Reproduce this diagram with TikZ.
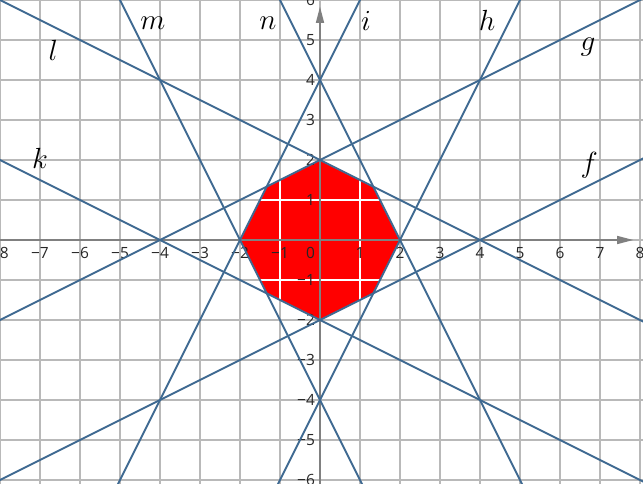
\documentclass[tikz,border=0pt]{standalone}
\usepackage{fontspec}
\newfontfamily\ticksfont{Open Sans}
\definecolor{lineblue}{RGB}{62,105,145}
\definecolor{gridgray}{RGB}{185,185,185}
\definecolor{axisgray}{RGB}{128,128,128}
\begin{document}
\begin{tikzpicture}[
  gridline/.style={draw=gridgray, line width=0.9pt},
  axisline/.style={draw=axisgray, line width=1.1pt},
  familyline/.style={draw=lineblue, line width=1.4pt},
  ticklbl/.style={font=\ticksfont\fontsize{11}{13}\selectfont, inner sep=0pt, text=black!85},
  linelbl/.style={font=\fontsize{20}{24}\selectfont, inner sep=0pt},
]
\useasboundingbox (-8,-6.1) rectangle (8.075,6);
\begin{scope}
\clip (-8,-6.1) rectangle (8.075,6);
% grid
\draw[gridline] (-9,-7) grid (9,7);
% octagon
\coordinate (p1) at (2,0);
\coordinate (p2) at (4/3,4/3);
\coordinate (p3) at (0,2);
\coordinate (p4) at (-4/3,4/3);
\coordinate (p5) at (-2,0);
\coordinate (p6) at (-4/3,-4/3);
\coordinate (p7) at (0,-2);
\coordinate (p8) at (4/3,-4/3);
\fill[red] (p1) -- (p2) -- (p3) -- (p4) -- (p5) -- (p6) -- (p7) -- (p8) -- cycle;
\begin{scope}
\clip (p1) -- (p2) -- (p3) -- (p4) -- (p5) -- (p6) -- (p7) -- (p8) -- cycle;
\draw[white, line width=0.9pt] (-3,-3) grid (3,3);
\end{scope}
\draw[white, line width=0.6pt] (p1) -- (p2) -- (p3) -- (p4) -- (p5) -- (p6) -- (p7) -- (p8) -- cycle;
% tick labels
\foreach \v in {1,...,8} {
  \node[ticklbl] (xp\v) at (\v,-0.33) {\v};
  \node[ticklbl] (xn\v) at (-\v,-0.33) {−\v};
}
\foreach \v in {1,...,6} {
  \node[ticklbl, anchor=east] (yp\v) at (-0.12,\v) {\v};
  \node[ticklbl, anchor=east] (yn\v) at (-0.12,-\v) {−\v};
}
\node[ticklbl, anchor=east] (origin) at (-0.12,-0.33) {0};
% axes
\coordinate (xs) at (-8.3,0);
\coordinate (xe) at (7.45,0);
\coordinate (xt) at (7.83,0);
\coordinate (ys) at (0,-6.3);
\coordinate (ye) at (0,5.45);
\coordinate (yt) at (0,5.83);
\draw[axisline] (xs) -- (xe);
\draw[axisline] (ys) -- (ye);
\fill[axisgray] (xt) -- ++(-0.4,0.105) -- ++(0,-0.21) -- cycle;
\fill[axisgray] (yt) -- ++(0.105,-0.4) -- ++(-0.21,0) -- cycle;
% lines
\coordinate (f1) at (-10,-7); \coordinate (f2) at (10,3);
\coordinate (g1) at (-10,-3); \coordinate (g2) at (10,7);
\coordinate (k1) at (-10,3);  \coordinate (k2) at (10,-7);
\coordinate (l1) at (-10,7);  \coordinate (l2) at (10,-3);
\coordinate (h1) at (-2,-8);  \coordinate (h2) at (6,8);
\coordinate (i1) at (-6,-8);  \coordinate (i2) at (2,8);
\coordinate (n1) at (-2,8);   \coordinate (n2) at (6,-8);
\coordinate (m1) at (-6,8);   \coordinate (m2) at (2,-8);
\draw[familyline] (f1) -- (f2);
\draw[familyline] (g1) -- (g2);
\draw[familyline] (k1) -- (k2);
\draw[familyline] (l1) -- (l2);
\draw[familyline] (h1) -- (h2);
\draw[familyline] (i1) -- (i2);
\draw[familyline] (n1) -- (n2);
\draw[familyline] (m1) -- (m2);
\end{scope}
% line labels
\node[linelbl] (lf) at (6.73,1.88) {$f$};
\node[linelbl] (lg) at (6.7,4.83) {$g$};
\node[linelbl] (lh) at (4.18,5.48) {$h$};
\node[linelbl] (li) at (1.15,5.48) {$i$};
\node[linelbl] (ln) at (-1.3,5.43) {$n$};
\node[linelbl] (lm) at (-4.18,5.42) {$m$};
\node[linelbl] (ll) at (-6.67,4.73) {$l$};
\node[linelbl] (lk) at (-7.0,2.05) {$k$};
\end{tikzpicture}
\end{document}
